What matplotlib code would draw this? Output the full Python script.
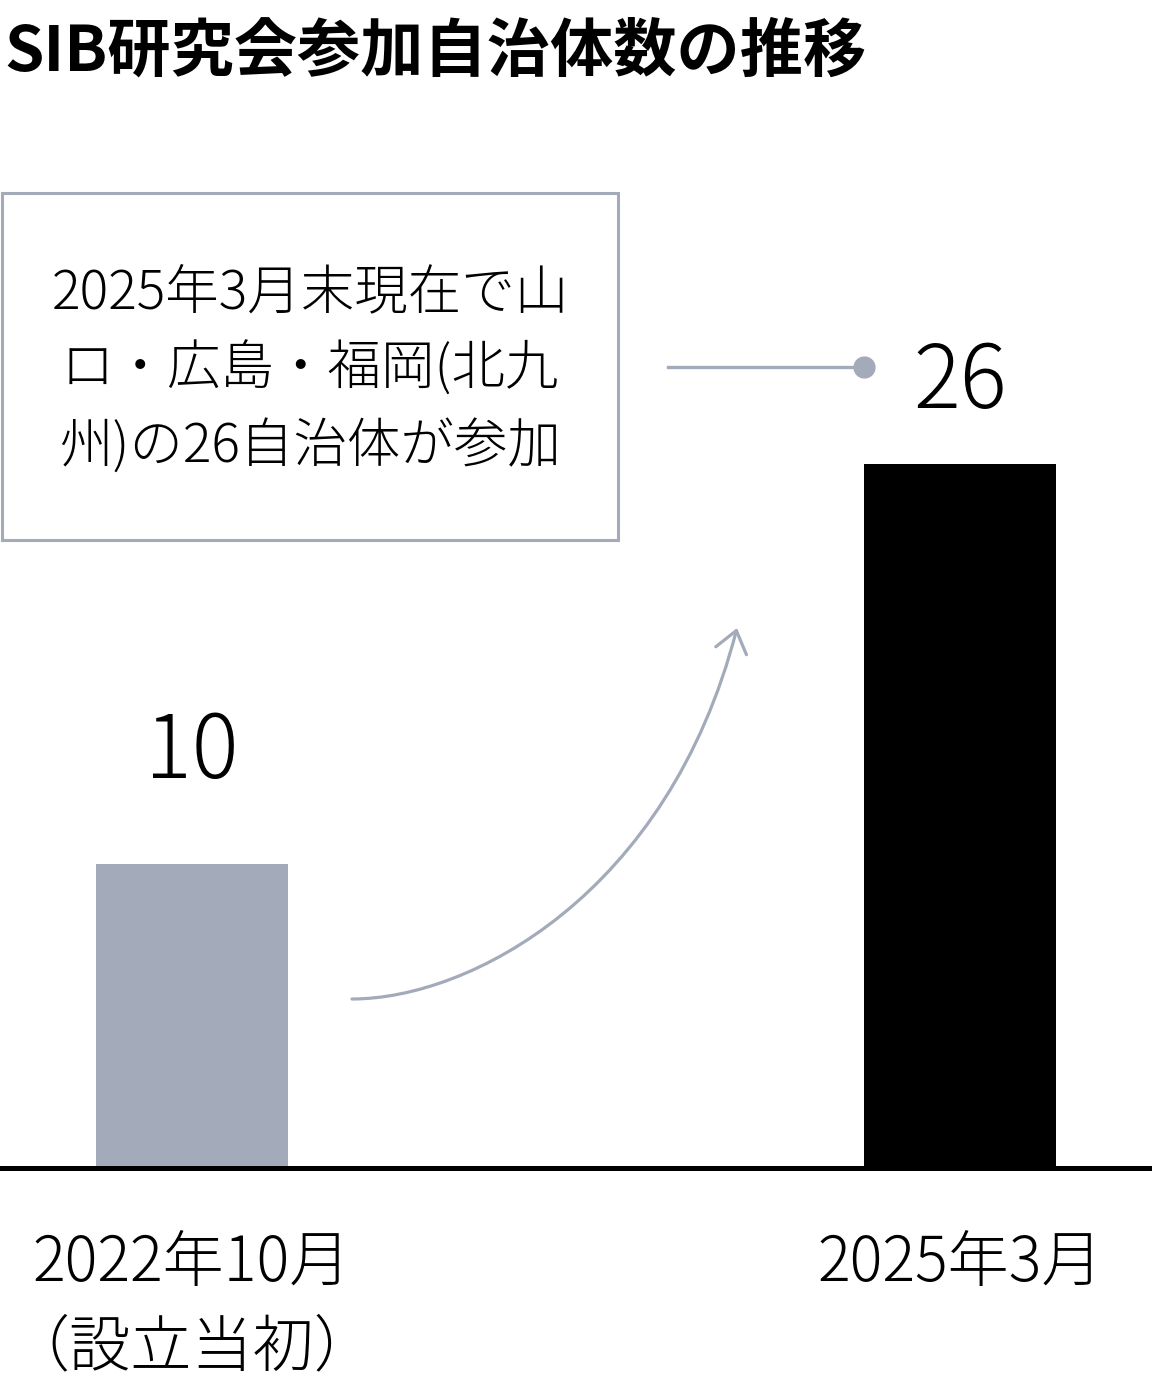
import matplotlib
matplotlib.use("Agg")
import matplotlib.pyplot as plt
from matplotlib.path import Path
from matplotlib.patches import FancyArrowPatch, Rectangle

# データ
categories = ["2022年10月\n（設立当初）", "2025年3月"]
values = [10, 26]
value_labels = ["10", "26"]
title = "SIB研究会参加自治体数の推移"
note = "2025年3月末現在で山\nロ・広島・福岡(北九\n州)の26自治体が参加"

gray = "#a3abbb"
bar_colors = [gray, "#000000"]

plt.rcParams['font.family'] = ["Noto Sans CJK JP", "DejaVu Sans"]

W, H = 1152, 1392
fig = plt.figure(figsize=(W / 100, H / 100), dpi=100)

def fx(px):
    return px / W

def fy(py):
    return 1 - py / H

# 軸: ベースラインは y=1168px
ax = fig.add_axes([0, fy(1168), 1, (1168 - 100) / H])
y0 = -2.16
x = [0, 1]
ax.bar(x, [v - y0 for v in values], bottom=y0, width=0.25, color=bar_colors)
ax.set_xlim(-0.25, 1.25)
ax.set_ylim(y0, y0 + 1068 / 25)
for s in ["top", "left", "right"]:
    ax.spines[s].set_visible(False)
ax.spines["bottom"].set_linewidth(3.6)
ax.spines["bottom"].set_color("black")
ax.set_yticks([])
ax.set_xticks(x)
ax.set_xticklabels(categories, fontsize=44, linespacing=1.42, fontweight="light")
ax.tick_params(axis="x", length=0, pad=46)

offsets = [62, 40]
for xi, v, lab, off in zip(x, values, value_labels, offsets):
    ax.annotate(lab, (xi, v), xytext=(0, off), textcoords="offset points",
                ha="center", va="baseline", fontsize=63, fontweight="light")

# タイトル
fig.text(fx(4), fy(52), title, fontsize=45.5, fontweight="bold",
         ha="left", va="center")

# 注記ボックス
fig.patches.append(Rectangle((fx(2), fy(540)), fx(616), (540 - 193) / H,
                             transform=fig.transFigure, fill=False,
                             edgecolor=gray, linewidth=2.2))
fig.text(fx(310), fy(370), note, fontsize=38.5, ha="center", va="center",
         linespacing=1.5, fontweight="light")

# 引き出し線
fig.add_artist(plt.Line2D([fx(668), fx(864)], [fy(367), fy(367)],
                          transform=fig.transFigure, color=gray, linewidth=2.4))
fig.add_artist(plt.Line2D([fx(864)], [fy(367)], transform=fig.transFigure,
                          marker="o", markersize=15, color=gray, linewidth=0))

# 曲線矢印
pts = [(352, 999), (470, 999), (668, 895), (737, 628)]
path = Path([(fx(a), fy(b)) for a, b in pts],
            [Path.MOVETO, Path.CURVE4, Path.CURVE4, Path.CURVE4])
arrow = FancyArrowPatch(path=path, arrowstyle="->,head_length=0.5,head_width=0.38",
                        mutation_scale=30, color=gray, linewidth=2.3,
                        transform=fig.transFigure)
fig.add_artist(arrow)

fig.savefig("out.png", dpi=100)
